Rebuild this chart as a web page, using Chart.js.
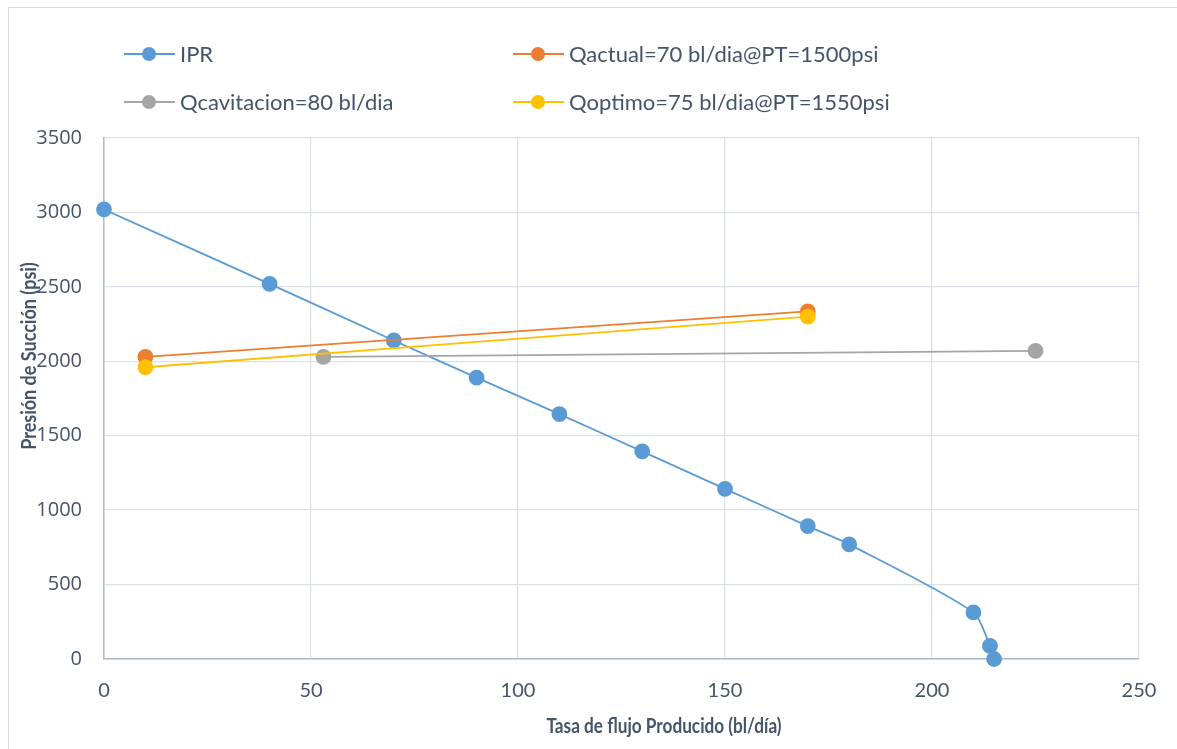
<!DOCTYPE html>
<html>
<head>
<meta charset="utf-8">
<script src="https://cdn.jsdelivr.net/npm/chart.js@4.4.1/dist/chart.umd.min.js"></script>
<style>
  html, body { margin: 0; padding: 0; background: #fff; }
  #wrap { position: relative; width: 1177px; height: 749px; }
</style>
</head>
<body>
<div id="wrap"><canvas id="chart"></canvas></div>
<script>
"use strict";

// IPR curve (bl/dia, psi)
const iprQ = [0, 40, 70, 90, 110, 130, 150, 170, 180, 210, 214, 215];
const iprP = [3020, 2520, 2140, 1890, 1645, 1395, 1143, 893, 770, 313, 88, 0];

const actualQ = [10, 170];
const actualP = [2030, 2335];

const cavitQ = [53, 225];
const cavitP = [2030, 2070];

const optimoQ = [10, 170];
const optimoP = [1960, 2300];

const xTicks = [0, 50, 100, 150, 200, 250];
const yTicks = [0, 500, 1000, 1500, 2000, 2500, 3000, 3500];

const seriesNames = ['IPR', 'Qactual=70 bl/dia@PT=1500psi', 'Qcavitacion=80 bl/dia', 'Qoptimo=75 bl/dia@PT=1550psi'];
const seriesColors = ['#5B9BD5', '#ED7D31', '#A5A5A5', '#FFC000'];

const textColor = '#44546A';
const gridColor = '#DCE1E8';

function toPoints(xs, ys) {
  return xs.map(function(x, i) { return {x: x, y: ys[i]}; });
}

function makeSet(i, xs, ys, order) {
  return {
    label: seriesNames[i],
    data: toPoints(xs, ys),
    borderColor: seriesColors[i],
    backgroundColor: seriesColors[i],
    pointBackgroundColor: seriesColors[i],
    pointBorderColor: seriesColors[i],
    pointRadius: 7,
    pointHoverRadius: 7,
    borderWidth: 1.8,
    showLine: true,
    tension: 0.25,
    clip: false,
    order: order
  };
}

// legend in two columns, titles over the ticks like the original
const decor = {
  id: 'decor',
  afterDraw(chart) {
    const ctx = chart.ctx;
    ctx.save();
    const cols = [124, 513];
    const rows = [54, 102];
    ctx.font = '22px Lato, "Open Sans", sans-serif';
    ctx.textBaseline = 'middle';
    ctx.textAlign = 'left';
    for (let i = 0; i < 4; i++) {
      const x = cols[i % 2], y = rows[Math.floor(i / 2)];
      ctx.strokeStyle = seriesColors[i];
      ctx.lineWidth = 1.8;
      ctx.beginPath(); ctx.moveTo(x, y); ctx.lineTo(x + 51, y); ctx.stroke();
      ctx.fillStyle = seriesColors[i];
      ctx.beginPath(); ctx.arc(x + 25, y, 7, 0, Math.PI * 2); ctx.fill();
      ctx.fillStyle = textColor;
      ctx.fillText(seriesNames[i], x + 56, y + 1);
    }
    ctx.font = 'bold 20px Lato, "Open Sans", sans-serif';
    ctx.textAlign = 'center';
    ctx.save();
    ctx.translate(664, 727);
    ctx.scale(0.86, 1);
    ctx.fillText('Tasa de flujo Producido (bl/día)', 0, 0);
    ctx.restore();
    ctx.translate(30, 356);
    ctx.rotate(-Math.PI / 2);
    ctx.scale(0.9, 1);
    ctx.fillText('Presión de Succión (psi)', 0, 0);
    ctx.restore();
    // frame
    ctx.save();
    ctx.strokeStyle = '#D9D9D9';
    ctx.lineWidth = 1;
    ctx.beginPath();
    ctx.moveTo(8.5, 749); ctx.lineTo(8.5, 7.5); ctx.lineTo(1177, 7.5);
    ctx.stroke();
    ctx.restore();
  }
};

new Chart(document.getElementById('chart'), {
  type: 'scatter',
  data: {
    datasets: [
      makeSet(0, iprQ, iprP, 4),
      makeSet(1, actualQ, actualP, 2),
      makeSet(2, cavitQ, cavitP, 3),
      makeSet(3, optimoQ, optimoP, 1)
    ]
  },
  options: {
    responsive: true,
    maintainAspectRatio: false,
    animation: false,
    layout: { padding: { left: 0, right: 38, top: 138, bottom: 0 } },
    plugins: {
      legend: { display: false },
      tooltip: { enabled: false }
    },
    scales: {
      x: {
        type: 'linear',
        min: 0, max: 250,
        afterBuildTicks(axis) { axis.ticks = xTicks.map(function(v) { return {value: v}; }); },
        afterFit(axis) { axis.height = 90; },
        grid: { color: gridColor, lineWidth: 1.3, drawTicks: false },
        border: { color: '#ADB9CA', width: 1.5 },
        ticks: {
          color: textColor,
          padding: 20,
          callback: function(v) { return String(v); },
          font: { size: 20, family: 'Lato, sans-serif' }
        }
      },
      y: {
        type: 'linear',
        min: 0, max: 3500,
        afterBuildTicks(axis) { axis.ticks = yTicks.map(function(v) { return {value: v}; }); },
        afterFit(axis) { axis.width = 104; },
        grid: { color: gridColor, lineWidth: 1.3, drawTicks: false },
        border: { color: '#ADB9CA', width: 1.5 },
        ticks: {
          color: textColor,
          padding: 22,
          callback: function(v) { return String(v); },
          font: { size: 20, family: '"Open Sans", sans-serif' }
        }
      }
    }
  },
  plugins: [decor]
});
</script>
</body>
</html>
